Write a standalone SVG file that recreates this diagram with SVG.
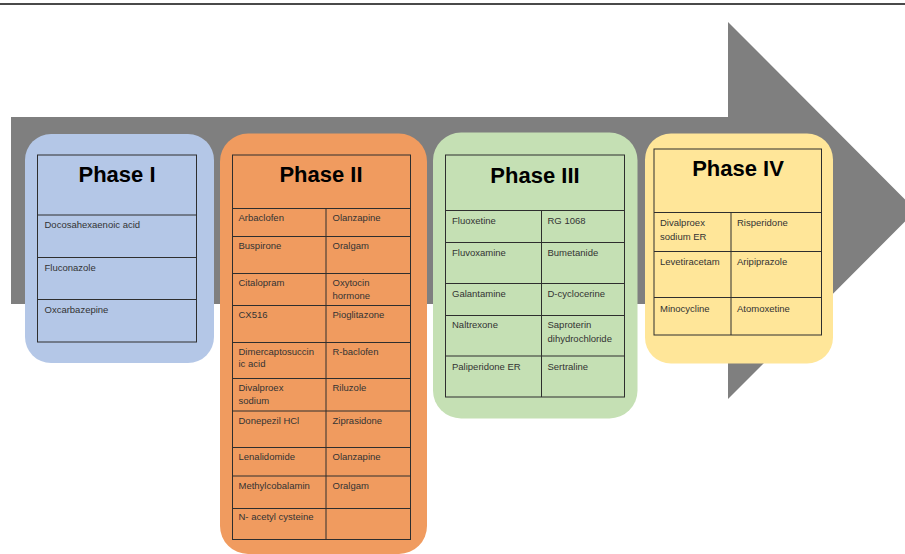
<svg xmlns="http://www.w3.org/2000/svg" width="905" height="554" viewBox="0 0 905 554">
<style>
.grid{fill:none;stroke:#2e2e2e;stroke-width:1}
.t{font-family:"Liberation Sans",Arial,sans-serif;font-size:9.5px;fill:#333}
.h{font-family:"Liberation Sans",Arial,sans-serif;font-size:22px;font-weight:bold;fill:#000;text-anchor:middle}
</style>
<rect x="0" y="0" width="905" height="554" fill="#ffffff"/>
<line x1="0" y1="4" x2="905" y2="4" stroke="#4a4a4a" stroke-width="2"/>
<g id="arrow">
<path d="M11,117 L728,117 L728,22 L916,210.5 L728,399 L728,304 L11,304 Z" fill="#7f7f7f"/>
</g>
<g id="connectors"></g>
<g id="phase1">
<rect x="25" y="134" width="189" height="229" rx="26" fill="#b4c7e7"/>
<rect class="grid" x="37.5" y="155" width="159" height="187"/>
<path class="grid" d="M37.5,215H196.5M37.5,257.5H196.5M37.5,299.5H196.5"/>
<text class="h" x="117" y="182">Phase I</text>
<text class="t" x="44.5" y="228">Docosahexaenoic acid</text>
<text class="t" x="44.5" y="270.5">Fluconazole</text>
<text class="t" x="44.5" y="312.5">Oxcarbazepine</text>
</g>
<g id="phase2">
<rect x="220" y="133.5" width="207" height="420.5" rx="28" fill="#f09b5f"/>
<rect class="grid" x="232.5" y="155" width="178" height="384.5"/>
<path class="grid" d="M232.5,208.5H410.5M232.5,236.5H410.5M232.5,273.5H410.5M232.5,305.5H410.5M232.5,342.5H410.5M232.5,378.5H410.5M232.5,411H410.5M232.5,447.5H410.5M232.5,476H410.5M232.5,508.5H410.5M326,208.5V539.5"/>
<text class="h" x="321" y="182">Phase II</text>
<g class="t">
<text x="238.5" y="221">Arbaclofen</text>
<text x="332.5" y="221">Olanzapine</text>
<text x="238.5" y="249">Buspirone</text>
<text x="332.5" y="249">Oralgam</text>
<text x="238.5" y="286">Citalopram</text>
<text x="332.5" y="286">Oxytocin</text>
<text x="332.5" y="298.5">hormone</text>
<text x="238.5" y="318">CX516</text>
<text x="332.5" y="318">Pioglitazone</text>
<text x="238.5" y="355">Dimercaptosuccin</text>
<text x="238.5" y="367">ic acid</text>
<text x="332.5" y="355">R-baclofen</text>
<text x="238.5" y="391">Divalproex</text>
<text x="238.5" y="403.5">sodium</text>
<text x="332.5" y="391">Riluzole</text>
<text x="238.5" y="423.5">Donepezil HCl</text>
<text x="332.5" y="423.5">Ziprasidone</text>
<text x="238.5" y="460">Lenalidomide</text>
<text x="332.5" y="460">Olanzapine</text>
<text x="238.5" y="488.5">Methylcobalamin</text>
<text x="332.5" y="488.5">Oralgam</text>
<text x="238.5" y="520">N- acetyl cysteine</text>
</g>
</g>
<g id="phase3">
<rect x="433" y="132.5" width="204.5" height="286" rx="28" fill="#c5e0b4"/>
<rect class="grid" x="445.5" y="155" width="179" height="242"/>
<path class="grid" d="M445.5,210.5H624.5M445.5,242.5H624.5M445.5,283.5H624.5M445.5,315.5H624.5M445.5,356H624.5M541.5,210.5V397"/>
<text class="h" x="535" y="183">Phase III</text>
<g class="t">
<text x="452" y="223.5">Fluoxetine</text>
<text x="547.5" y="223.5">RG 1068</text>
<text x="452" y="256">Fluvoxamine</text>
<text x="547.5" y="256">Bumetanide</text>
<text x="452" y="297">Galantamine</text>
<text x="547.5" y="297">D-cyclocerine</text>
<text x="452" y="328">Naltrexone</text>
<text x="547.5" y="328">Saproterin</text>
<text x="547.5" y="341.5">dihydrochloride</text>
<text x="452" y="369.5">Paliperidone ER</text>
<text x="547.5" y="369.5">Sertraline</text>
</g>
</g>
<g id="phase4">
<rect x="645" y="133.5" width="188" height="230" rx="26" fill="#ffe699"/>
<rect class="grid" x="654" y="149" width="167.5" height="186"/>
<path class="grid" d="M654,212.5H821.5M654,251.5H821.5M654,297.5H821.5M731,212.5V335"/>
<text class="h" x="738" y="176">Phase IV</text>
<g class="t">
<text x="660" y="225.5">Divalproex</text>
<text x="660" y="239.5">sodium ER</text>
<text x="737" y="225.5">Risperidone</text>
<text x="660" y="264.5">Levetiracetam</text>
<text x="737" y="264.5">Aripiprazole</text>
<text x="660" y="312">Minocycline</text>
<text x="737" y="312">Atomoxetine</text>
</g>
</g>
</svg>
